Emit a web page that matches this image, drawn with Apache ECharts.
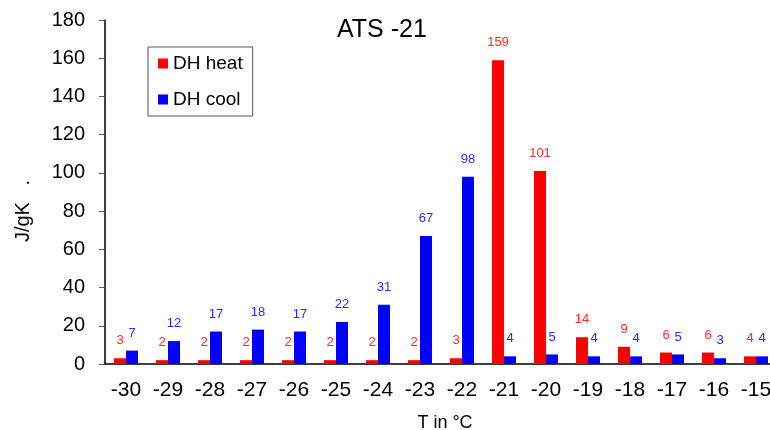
<!DOCTYPE html>
<html><head><meta charset="utf-8">
<script src="https://cdn.jsdelivr.net/npm/echarts@6/dist/echarts.min.js"></script>
<style>html,body{margin:0;padding:0;background:#fff;overflow:hidden}#c{width:770px;height:430px}</style>
</head><body><div id="c"></div>
<script>
const categories = ['-30','-29','-28','-27','-26','-25','-24','-23','-22','-21','-20','-19','-18','-17','-16','-15'];
const heatValues = [3,2,2,2,2,2,2,2,3,159,101,14,9,6,6,4];
const coolValues = [7,12,17,18,17,22,31,67,98,4,5,4,4,5,3,4];
const yTicks = {min:0, max:180, interval:20};

const FONT = 'Liberation Sans';
const chart = echarts.init(document.getElementById('c'), null, {renderer:'canvas'});
chart.setOption({
  animation:false,
  backgroundColor:'#fff',
  textStyle:{fontFamily:FONT},
  title:{text:'ATS -21', left:337, top:18, padding:0, textStyle:{fontFamily:FONT, fontSize:25, fontWeight:'normal', color:'#000'}},
  legend:{
    orient:'vertical', left:148, top:47, padding:[7,10,7,10],
    borderColor:'#555', borderWidth:1, itemGap:17,
    itemWidth:10, itemHeight:10,
    textStyle:{fontFamily:FONT, fontSize:19, color:'#000'},
    data:[{name:'DH heat', icon:'rect'},{name:'DH cool', icon:'rect'}]
  },
  grid:{left:105, top:20, width:672, height:344, containLabel:false, outerBoundsMode:'none'},
  xAxis:{
    type:'category', data:categories,
    name:'T in °C', nameLocation:'middle', nameGap:50,
    nameTextStyle:{fontFamily:FONT, fontSize:18, color:'#000', padding:[0,0,0,8]},
    axisLine:{lineStyle:{color:'#000', width:1.5}},
    axisTick:{length:6, lineStyle:{color:'#555'}},
    axisLabel:{fontFamily:FONT, fontSize:21, color:'#000', margin:16}
  },
  yAxis:{
    type:'value', min:yTicks.min, max:yTicks.max, interval:yTicks.interval,
    name:'J/gK   .', nameLocation:'middle', nameGap:72, nameRotate:90,
    nameTextStyle:{fontFamily:FONT, fontSize:20, color:'#000', padding:[0,38,0,0]},
    axisLine:{show:true, lineStyle:{color:'#000', width:1.5}},
    axisTick:{show:true, length:6, lineStyle:{color:'#555'}},
    splitLine:{show:false},
    axisLabel:{fontFamily:FONT, fontSize:20, color:'#000', margin:20}
  },
  series:[
    {name:'DH heat', type:'bar', data:heatValues, barWidth:12, barGap:'0%',
     itemStyle:{color:'#ff0000'},
     label:{show:true, position:'top', distance:11, color:'#ff2a2a', fontFamily:FONT, fontSize:13}},
    {name:'DH cool', type:'bar', data:coolValues, barWidth:12,
     itemStyle:{color:'#0000ff'},
     label:{show:true, position:'top', distance:11, color:'#2a2aff', fontFamily:FONT, fontSize:13}}
  ]
});
</script></body></html>
